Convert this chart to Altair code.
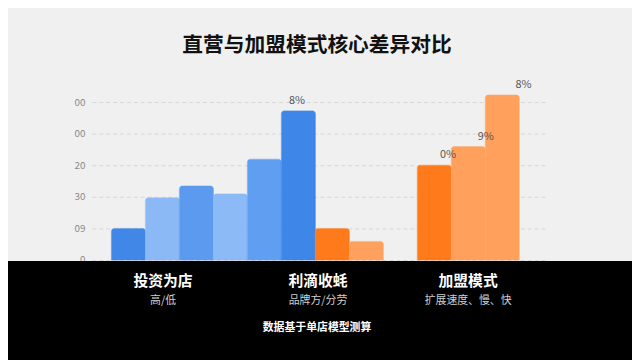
import altair as alt
import pandas as pd

# ---- data ----
slots = ["b1", "b2", "b3", "b4", "b5", "b6", "b7", "b8", "gap", "b10", "b11", "b12"]
values = [10.0, 19.7, 23.4, 20.9, 31.9, 47.2, 10.0, 5.9, None, 30.0, 35.9, 52.2]
bar_labels = ["", "", "", "", "", "8%", "", "", "", "0%", "9%", "8%"]
bar_colors = ["#4087e8", "#8bb9f5", "#5b9aef", "#8cbaf6", "#5f9ef1", "#3e86e8",
              "#ff7a1a", "#ffa15e", "#ffffff", "#ff7a1a", "#ffa05c", "#ffa05c"]
ytick_values = [0, 10, 20, 30, 40, 50]
ytick_labels = ["0", "09", "30", "20", "00", "00"]

title_text = "直营与加盟模式核心差异对比"
group_names = ["投资为店", "利滴收蚝", "加盟模式"]
group_subs = ["高/低", "品牌方/分劳", "扩展速度、慢、快"]
footer_text = "数据基于单店模型测算"

FONT = "Noto Sans CJK SC"
BG = "#f0f0f0"

W, H = 459, 192
PAD = {"left": 85, "top": 61, "right": 88, "bottom": 99}

df = pd.DataFrame({"slot": slots, "value": values, "label": bar_labels})
df_bars = df.dropna(subset=["value"])

# y-axis label expression built from the tick lists
expr = "''"
for v, t in zip(reversed(ytick_values), reversed(ytick_labels)):
    expr = f"datum.value == {v} ? '{t}' : ({expr})"

x_scale = alt.Scale(domain=slots, paddingInner=0, paddingOuter=0.667, align=0.43)
y_scale = alt.Scale(domain=[0, 60], nice=False)
y_axis = alt.Axis(values=ytick_values, labelExpr=expr, title=None,
                  domain=False, ticks=False, grid=True,
                  labelOverlap=False, tickCount=6,
                  gridColor="#d6d6d6", gridDash=[4, 3], gridWidth=1,
                  labelColor="#8a8a8a", labelFontSize=10,
                  labelFont=FONT, labelPadding=7)
color_scale = alt.Scale(domain=slots, range=bar_colors)

base = alt.Chart(df_bars)

bars = base.mark_bar(cornerRadiusTopLeft=3, cornerRadiusTopRight=3,
                     strokeWidth=0.6).encode(
    x=alt.X("slot:N", scale=x_scale, axis=None),
    y=alt.Y("value:Q", scale=y_scale, axis=y_axis),
    color=alt.Color("slot:N", scale=color_scale, legend=None),
    stroke=alt.Stroke("slot:N", scale=color_scale, legend=None),
)

vals = base.mark_text(baseline="bottom", dy=-5, fontSize=11, color="#555555",
                      font=FONT).encode(
    x=alt.X("slot:N", scale=x_scale, axis=None),
    y=alt.Y("value:Q", scale=y_scale, axis=y_axis),
    text="label:N",
)

band = alt.Chart(pd.DataFrame({"a": [0]})).mark_rect(color="#000000").encode(
    x=alt.value(-PAD["left"] - 10), x2=alt.value(W + PAD["right"] + 10),
    y=alt.value(H + 1), y2=alt.value(H + PAD["bottom"] + 10),
)

title = alt.Chart(pd.DataFrame({"t": [title_text]})).mark_text(
    font=FONT, fontSize=21, fontWeight="bold", color="#111111",
    align="center", baseline="middle").encode(
    x=alt.value(228), y=alt.value(-25), text="t:N")

gx = [72, 229, 381]
gdf = pd.DataFrame({"name": group_names, "sub": group_subs, "gx": gx})
gnames = alt.Chart(gdf).mark_text(
    font=FONT, fontSize=15, fontWeight="bold", color="#ffffff",
    align="center", baseline="middle").encode(
    x=alt.X("gx:Q", scale=alt.Scale(domain=[0, W], range=[0, W]), axis=None),
    y=alt.value(213), text="name:N")
gsubs = alt.Chart(gdf).mark_text(
    font=FONT, fontSize=11, color="#d0d0d0",
    align="center", baseline="middle").encode(
    x=alt.X("gx:Q", scale=alt.Scale(domain=[0, W], range=[0, W]), axis=None),
    y=alt.value(234), text="sub:N")

footer = alt.Chart(pd.DataFrame({"t": [footer_text]})).mark_text(
    font=FONT, fontSize=11, fontWeight="bold", color="#ffffff",
    align="center", baseline="middle").encode(
    x=alt.value(228), y=alt.value(261), text="t:N")

chart = alt.layer(bars, vals, band, title, gnames, gsubs, footer).resolve_scale(
    x="independent"
).properties(
    width=W, height=H,
    autosize=alt.AutoSizeParams(type="none"),
    padding=PAD,
    background=BG,
).configure_view(stroke=None)

chart.save("out.html", embed_options={"renderer": "svg", "actions": False})
